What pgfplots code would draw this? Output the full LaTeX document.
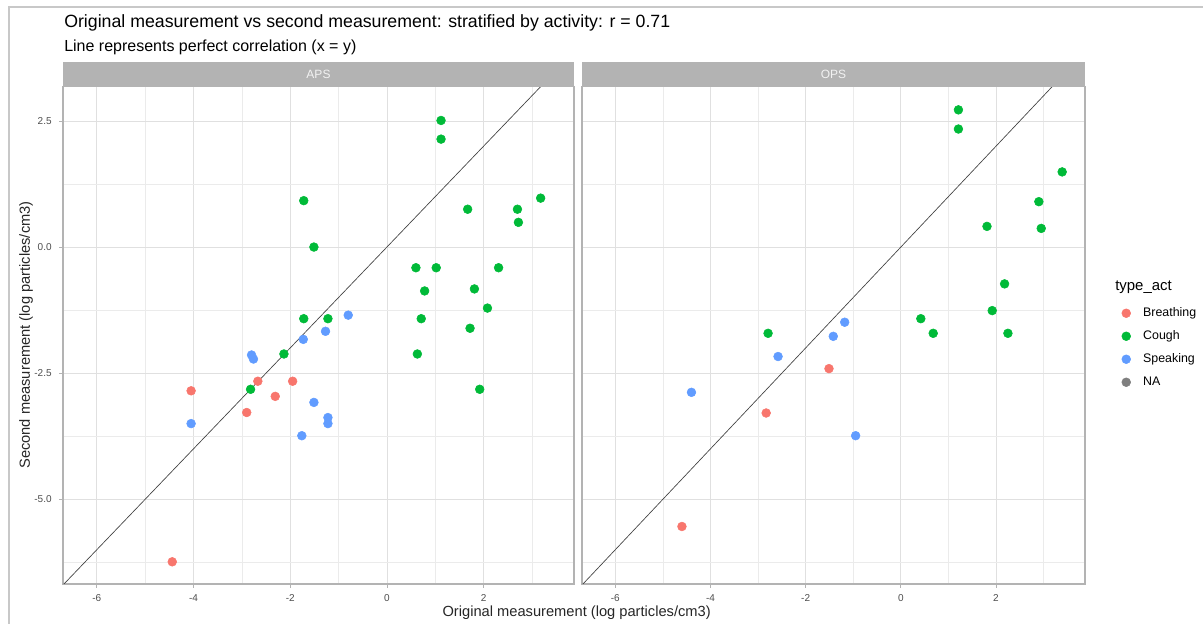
\documentclass[border=0pt]{standalone}
\usepackage{pgfplots}
\pgfplotsset{compat=1.18}
\usepackage{fontspec}
\setmainfont{Liberation Sans}

\definecolor{cBr}{HTML}{F8766D}
\definecolor{cCo}{HTML}{00BA38}
\definecolor{cSp}{HTML}{619CFF}
\definecolor{cNA}{HTML}{7F7F7F}
\definecolor{gridA}{HTML}{E0E0E0}
\definecolor{gridB}{HTML}{EBEBEB}
\definecolor{border}{HTML}{B3B3B3}
\definecolor{tickc}{HTML}{4D4D4D}
\definecolor{frame}{HTML}{C8C8C8}

\pgfplotsset{
  panel/.style={
    scale only axis, anchor=south west,
    height=373pt,
    xmin=-6.7, xmax=3.87, ymin=-6.68, ymax=3.18,
    xtick={-6,-4,-2,0,2}, xticklabels={-6,-4,-2,0,2},
    minor xtick={-5,-3,-1,1,3},
    ytick={-5,-2.5,0,2.5},
    minor ytick={-6.25,-3.75,-1.25,1.25},
    grid=both,
    major grid style={gridA, line width=0.6pt},
    minor grid style={gridB, line width=0.45pt},
    axis line style={border, line width=0.9pt},
    tick align=outside, major tick length=3pt, minor tick length=0pt,
    tick style={border, line width=0.6pt},
    ticklabel style={font=\fontsize{7.5}{9}\selectfont, text=tickc},
    xticklabel style={yshift=-1.5pt},
    yticklabel style={xshift=-2pt},
    xtick pos=bottom, ytick pos=left,
    clip=false,
  },
  pts/.style={only marks, mark=*, mark size=3.3pt, color=#1},
  diag/.style={black!75, line width=0.5pt, forget plot},
}

\begin{document}
\begin{tikzpicture}
\useasboundingbox (0,0) rectangle (902.25pt,468pt);
\draw[frame, line width=1.1pt] (6.75pt,0pt) -- (6.75pt,462.75pt) -- (902.25pt,462.75pt);

% APS panel
\begin{axis}[panel, name=aps, at={(47.25pt,30pt)}, width=383.25pt,
  yticklabels={-5.0,-2.5,0.0,2.5}]
\addplot[diag] coordinates {(-6.68,-6.68) (3.18,3.18)};
\addplot[pts=cBr] coordinates {
(-4.05,-2.85) (-2.67,-2.66) (-1.95,-2.66) (-2.31,-2.96) (-2.90,-3.28) (-4.44,-6.24)
};
\addplot[pts=cCo] coordinates {
(1.12,2.51) (1.12,2.14) (-1.72,0.92) (-1.51,0.00) (1.67,0.75) (2.70,0.75)
(2.72,0.49) (3.18,0.97) (0.60,-0.41) (1.02,-0.41) (2.31,-0.41) (0.78,-0.87)
(1.81,-0.83) (2.08,-1.21) (0.71,-1.42) (1.72,-1.61) (0.63,-2.12) (-1.72,-1.42)
(-1.22,-1.42) (-2.13,-2.12) (-2.82,-2.82) (1.92,-2.82)
};
\addplot[pts=cSp] coordinates {
(-0.80,-1.35) (-1.27,-1.67) (-1.73,-1.83) (-2.80,-2.14) (-2.76,-2.22)
(-1.51,-3.08) (-1.22,-3.38) (-1.22,-3.50) (-4.05,-3.50) (-1.76,-3.74)
};
\end{axis}

% OPS panel
\begin{axis}[panel, name=ops, at={(436.5pt,30pt)}, width=377.25pt,
  yticklabels={}, ytick style={draw=none},
  legend cell align=left,
  legend image code/.code={\path (-4pt,0pt) (11.5pt,0pt); \draw[#1] plot coordinates {(0pt,0pt)};},
  legend style={at={(axis description cs:1.0703,0.5597)}, anchor=north west,
    draw=none, fill=none, inner sep=0pt, row sep=6.25pt,
    font=\fontsize{9.3}{11}\selectfont,
    nodes={text height=7pt, text depth=2pt, inner sep=1pt}}]
\addplot[diag] coordinates {(-6.68,-6.68) (3.18,3.18)};
\addplot[pts=cBr] coordinates {
(-1.51,-2.41) (-2.83,-3.29) (-4.60,-5.54)
};
\addplot[pts=cCo] coordinates {
(1.21,2.72) (1.21,2.34) (3.39,1.49) (2.90,0.90) (2.95,0.37) (1.81,0.41)
(2.18,-0.73) (1.92,-1.26) (0.42,-1.42) (0.68,-1.71) (2.25,-1.71) (-2.79,-1.71)
};
\addplot[pts=cSp] coordinates {
(-1.18,-1.49) (-1.42,-1.77) (-2.58,-2.17) (-4.40,-2.88) (-0.95,-3.74)
};
\addlegendimage{pts=cNA}
\legend{Breathing,Cough,Speaking,NA}
\end{axis}

% facet strips
\fill[border] (aps.north west) rectangle ([yshift=18.5pt]aps.north east);
\fill[border] (ops.north west) rectangle ([yshift=18.5pt]ops.north east);
\node[text=white!95!black, font=\fontsize{9}{10}\selectfont] at ([yshift=9.25pt]aps.north) {APS};
\node[text=white!95!black, font=\fontsize{9}{10}\selectfont] at ([yshift=9.25pt]ops.north) {OPS};

% titles and labels
\node[anchor=base west, inner sep=0pt, font=\fontsize{13.3}{15}\selectfont] at (48pt,447pt)
  {Original measurement vs second measurement: stratified by activity: r = 0.71};
\node[anchor=base west, inner sep=0pt, font=\fontsize{12}{14}\selectfont] at (48pt,429.5pt)
  {Line represents perfect correlation (x = y)};
\node[font=\fontsize{11}{13}\selectfont, text=black!85] at (432.5pt,8.25pt)
  {Original measurement (log particles/cm3)};
\node[rotate=90, font=\fontsize{11}{13}\selectfont, text=black!85] at (19.5pt,216.75pt)
  {Second measurement (log particles/cm3)};
\node[anchor=west, inner sep=0pt, font=\fontsize{11.2}{13}\selectfont] at (836.25pt,252.75pt) {type\_act};
\end{tikzpicture}
\end{document}
